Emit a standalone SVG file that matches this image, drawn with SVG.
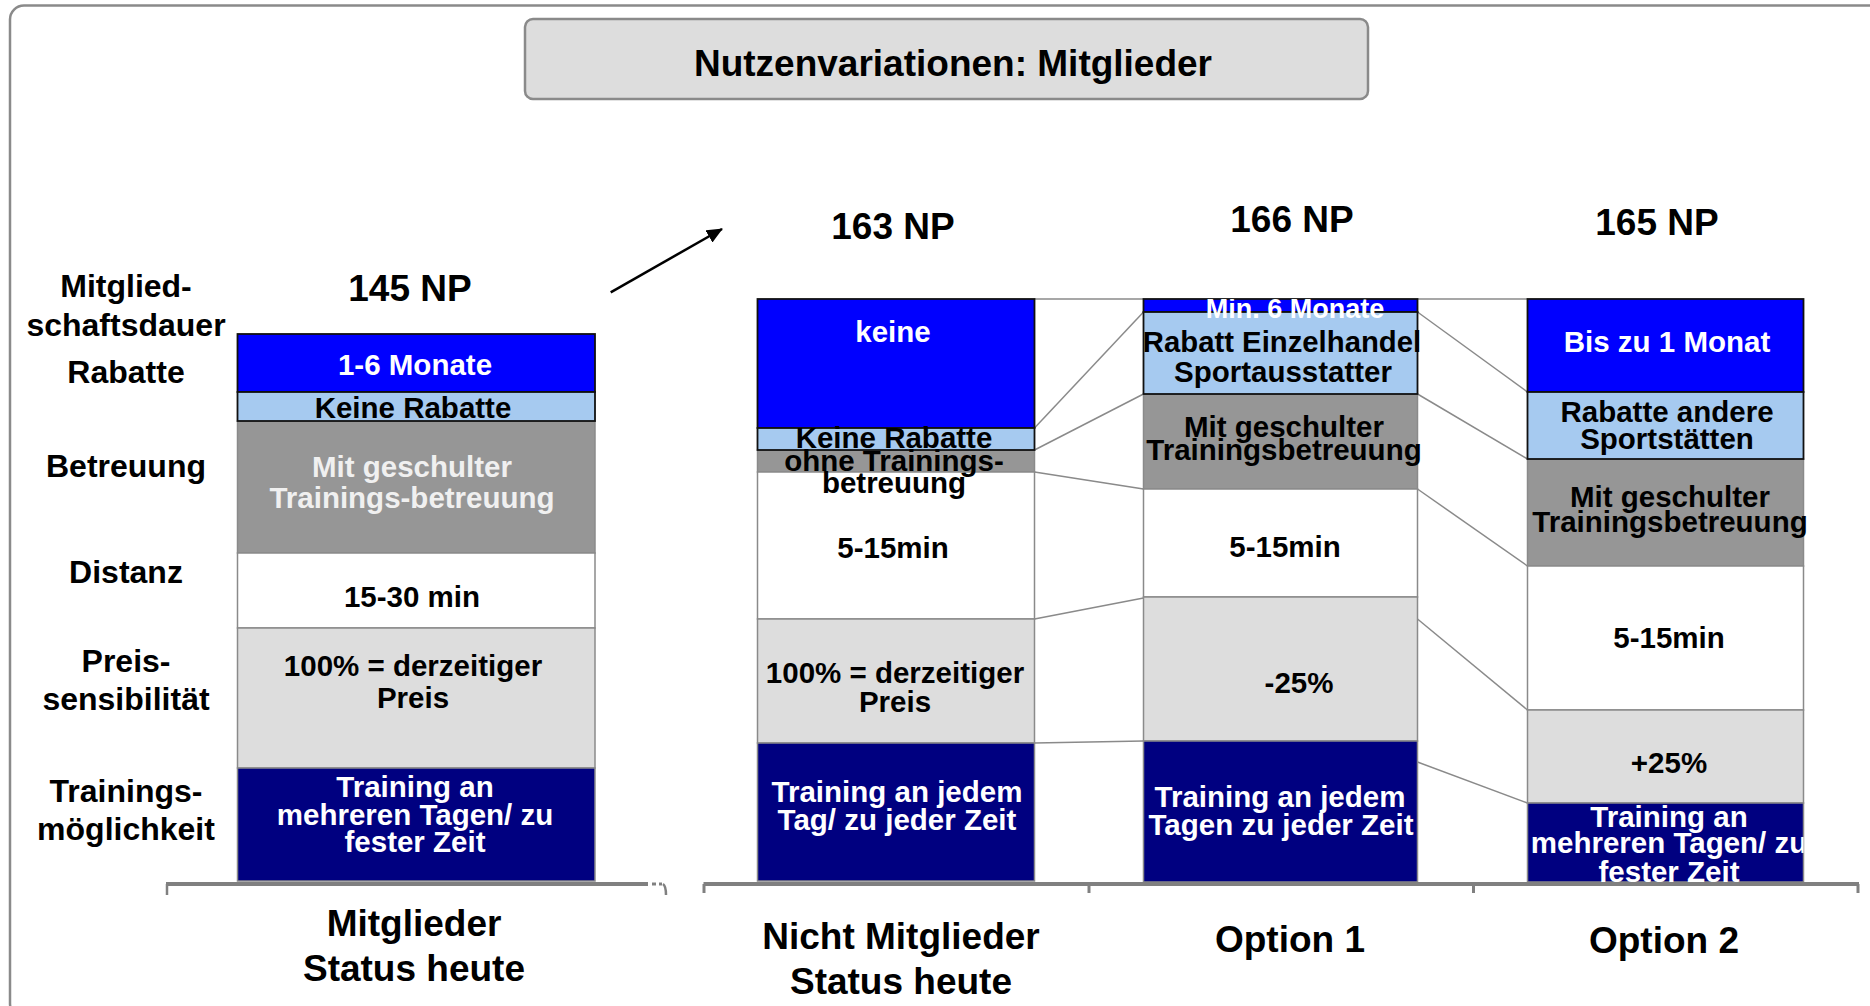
<svg xmlns="http://www.w3.org/2000/svg" width="1870" height="1006" viewBox="0 0 1870 1006">
<style>
text{font-family:"Liberation Sans",Arial,sans-serif;font-weight:bold;text-anchor:middle}
.t28{font-size:29.5px}
.t31{font-size:32px}
.t36{font-size:37px}
.w{fill:#ffffff}
.k{fill:#000000}
.lw{fill:#f0f0f0}
.blue{fill:#0000ff;stroke:#111;stroke-width:1.8}
.lblue{fill:#a6caf0;stroke:#111;stroke-width:1.8}
.dgray{fill:#969696;stroke:#8a8a8a;stroke-width:1.5}
.white{fill:#ffffff;stroke:#8a8a8a;stroke-width:1.5}
.lgray{fill:#dddddd;stroke:#8a8a8a;stroke-width:1.5}
.navy{fill:#000080;stroke:#8a8a8a;stroke-width:1.5}
.conn line{stroke:#8a8a8a;stroke-width:1.5}
.axis{stroke:#808080;fill:none}
</style>
<defs>
<marker id="ah" markerWidth="16" markerHeight="14" refX="15" refY="7" orient="auto" markerUnits="userSpaceOnUse">
<path d="M0,0 L16,7 L0,14 z" fill="#000"/>
</marker>
<clipPath id="c3"><rect x="1143.5" y="299" width="274" height="584"/></clipPath>
<clipPath id="c4"><rect x="1527.5" y="803" width="276" height="80"/></clipPath>
</defs>
<rect x="10" y="5.5" width="1900" height="1012" rx="14" fill="#fff" stroke="#8a8a8a" stroke-width="2.5"/>
<g id="title">
<rect x="525" y="19" width="843" height="80" rx="8" fill="#dddddd" stroke="#8a8a8a" stroke-width="2.5"/>
<text class="t36 k" x="953" y="76">Nutzenvariationen: Mitglieder</text>
</g>
<g id="row-labels">
<text class="t31 k" x="126" y="297">Mitglied-</text>
<text class="t31 k" x="126" y="336">schaftsdauer</text>
<text class="t31 k" x="126" y="383">Rabatte</text>
<text class="t31 k" x="126" y="477">Betreuung</text>
<text class="t31 k" x="126" y="583">Distanz</text>
<text class="t31 k" x="126" y="672">Preis-</text>
<text class="t31 k" x="126" y="710">sensibilität</text>
<text class="t31 k" x="126" y="802">Trainings-</text>
<text class="t31 k" x="126" y="840">möglichkeit</text>
</g>
<g id="connectors" class="conn">
<line x1="1034.5" y1="299" x2="1143.5" y2="299"/>
<line x1="1034.5" y1="428" x2="1143.5" y2="312"/>
<line x1="1034.5" y1="450" x2="1143.5" y2="394"/>
<line x1="1034.5" y1="472" x2="1143.5" y2="489"/>
<line x1="1034.5" y1="619" x2="1143.5" y2="598"/>
<line x1="1034.5" y1="743" x2="1143.5" y2="741"/>
<line x1="1417.5" y1="299" x2="1527.5" y2="299"/>
<line x1="1417.5" y1="312" x2="1527.5" y2="392"/>
<line x1="1417.5" y1="394" x2="1527.5" y2="459"/>
<line x1="1417.5" y1="489" x2="1527.5" y2="566"/>
<line x1="1417.5" y1="619" x2="1527.5" y2="710"/>
<line x1="1417.5" y1="762" x2="1527.5" y2="803"/>
<line x1="610.7" y1="292.3" x2="722" y2="229" marker-end="url(#ah)" style="stroke:#000;stroke-width:2.5"/>
</g>
<g id="col-mitglieder">
<text class="t36 k" x="410" y="301">145 NP</text>
<rect class="dgray" x="237.5" y="421" width="357.5" height="132"/>
<rect class="white" x="237.5" y="553" width="357.5" height="75"/>
<rect class="lgray" x="237.5" y="628" width="357.5" height="140"/>
<rect class="navy" x="237.5" y="768" width="357.5" height="113"/>
<rect class="blue" x="237.5" y="334" width="357.5" height="58"/>
<rect class="lblue" x="237.5" y="392" width="357.5" height="29"/>
<text class="t28 w" x="415" y="375">1-6 Monate</text>
<text class="t28 k" x="413" y="418">Keine Rabatte</text>
<text class="t28 lw" x="412" y="477">Mit geschulter</text>
<text class="t28 lw" x="412" y="508">Trainings-betreuung</text>
<text class="t28 k" x="412" y="607">15-30 min</text>
<text class="t28 k" x="413" y="676">100% = derzeitiger</text>
<text class="t28 k" x="413" y="708">Preis</text>
<text class="t28 w" x="415" y="797">Training an</text>
<text class="t28 w" x="415" y="825">mehreren Tagen/ zu</text>
<text class="t28 w" x="415" y="852">fester Zeit</text>
<text class="t36 k" x="414" y="936">Mitglieder</text>
<text class="t36 k" x="414" y="981">Status heute</text>
</g>
<g id="col-nicht-mitglieder">
<text class="t36 k" x="893" y="239">163 NP</text>
<rect class="dgray" x="757.5" y="450" width="277" height="22"/>
<rect class="white" x="757.5" y="472" width="277" height="147"/>
<rect class="lgray" x="757.5" y="619" width="277" height="124"/>
<rect class="navy" x="757.5" y="743" width="277" height="138"/>
<rect class="blue" x="757.5" y="299" width="277" height="129"/>
<rect class="lblue" x="757.5" y="428" width="277" height="22"/>
<text class="t28 w" x="893" y="342">keine</text>
<text class="t28 k" x="894" y="448">Keine Rabatte</text>
<text class="t28 k" x="894" y="471">ohne Trainings-</text>
<text class="t28 k" x="894" y="493">betreuung</text>
<text class="t28 k" x="893" y="558">5-15min</text>
<text class="t28 k" x="895" y="683">100% = derzeitiger</text>
<text class="t28 k" x="895" y="712">Preis</text>
<text class="t28 w" x="897" y="802">Training an jedem</text>
<text class="t28 w" x="897" y="830">Tag/ zu jeder Zeit</text>
<text class="t36 k" x="901" y="949">Nicht Mitglieder</text>
<text class="t36 k" x="901" y="994">Status heute</text>
</g>
<g id="col-option1">
<text class="t36 k" x="1292" y="232">166 NP</text>
<rect class="dgray" x="1143.5" y="394" width="274" height="95"/>
<rect class="white" x="1143.5" y="489" width="274" height="108"/>
<rect class="lgray" x="1143.5" y="597" width="274" height="144"/>
<rect class="navy" x="1143.5" y="741" width="274" height="141"/>
<rect class="blue" x="1143.5" y="299" width="274" height="13"/>
<rect class="lblue" x="1143.5" y="312" width="274" height="82"/>
<g clip-path="url(#c3)">
<text class="w" style="font-size:27px" x="1295" y="318">Min. 6 Monate</text>
</g>
<text class="k" style="font-size:29.3px" x="1282" y="352">Rabatt Einzelhandel</text>
<text class="t28 k" x="1283" y="382">Sportausstatter</text>
<text class="t28 k" x="1284" y="437">Mit geschulter</text>
<text class="t28 k" x="1284" y="460">Trainingsbetreuung</text>
<text class="t28 k" x="1285" y="557">5-15min</text>
<text class="t28 k" x="1299" y="693">-25%</text>
<text class="t28 w" x="1280" y="807">Training an jedem</text>
<text class="t28 w" x="1281" y="835">Tagen zu jeder Zeit</text>
<text class="t36 k" x="1290" y="952">Option 1</text>
</g>
<g id="col-option2">
<text class="t36 k" x="1657" y="235">165 NP</text>
<rect class="dgray" x="1527.5" y="459" width="276" height="107"/>
<rect class="white" x="1527.5" y="566" width="276" height="144"/>
<rect class="lgray" x="1527.5" y="710" width="276" height="93"/>
<rect class="navy" x="1527.5" y="803" width="276" height="79"/>
<rect class="blue" x="1527.5" y="299" width="276" height="93"/>
<rect class="lblue" x="1527.5" y="392" width="276" height="67"/>
<text class="t28 w" x="1667" y="352">Bis zu 1 Monat</text>
<text class="t28 k" x="1667" y="422">Rabatte andere</text>
<text class="t28 k" x="1667" y="449">Sportstätten</text>
<text class="t28 k" x="1670" y="507">Mit geschulter</text>
<text class="t28 k" x="1670" y="532">Trainingsbetreuung</text>
<text class="t28 k" x="1669" y="648">5-15min</text>
<text class="t28 k" x="1669" y="773">+25%</text>
<g clip-path="url(#c4)">
<text class="t28 w" x="1669" y="827">Training an</text>
<text class="t28 w" x="1669" y="853">mehreren Tagen/ zu</text>
<text class="t28 w" x="1669" y="882">fester Zeit</text>
</g>
<text class="t36 k" x="1664" y="953">Option 2</text>
</g>
<g id="axes">
<line class="axis" x1="166" y1="884" x2="648" y2="884" stroke-width="4"/>
<line class="axis" x1="167" y1="884" x2="167" y2="895" stroke-width="2.5"/>
<line class="axis" x1="652" y1="884" x2="656" y2="884" stroke-width="3"/>
<line class="axis" x1="659" y1="884" x2="662" y2="884" stroke-width="3"/>
<path class="axis" d="M663,884 Q666,886 666,895" stroke-width="2.5"/>
<line class="axis" x1="703.5" y1="884" x2="1859" y2="884" stroke-width="4"/>
<line class="axis" x1="704" y1="884" x2="704" y2="893" stroke-width="3"/>
<line class="axis" x1="1089" y1="884" x2="1089" y2="893" stroke-width="3"/>
<line class="axis" x1="1473.5" y1="884" x2="1473.5" y2="893" stroke-width="3"/>
<line class="axis" x1="1858" y1="884" x2="1858" y2="893" stroke-width="3"/>
</g>
</svg>
